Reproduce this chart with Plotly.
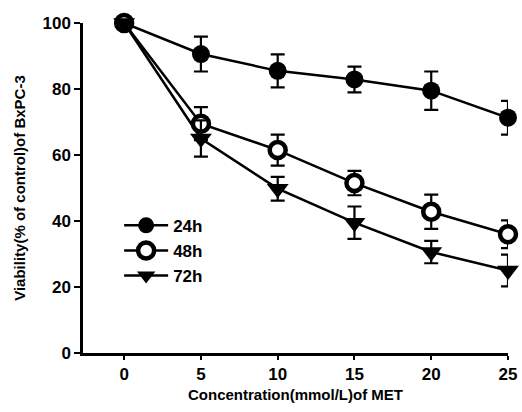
import plotly.graph_objects as go

conc = [0, 5, 10, 15, 20, 25]
v24 = [100, 90.6, 85.5, 82.9, 79.5, 71.3]
e24 = [0, 5.3, 5.0, 3.9, 5.8, 5.1]
v48 = [100, 69.5, 61.5, 51.5, 42.8, 36.0]
e48 = [0, 5.0, 4.7, 3.7, 5.2, 4.2]
v72 = [100, 65.0, 49.8, 39.5, 30.6, 25.0]
e72 = [0, 5.5, 3.6, 4.9, 3.4, 4.8]
series = [("24h", v24, e24, "circle"), ("48h", v48, e48, "circle-open"), ("72h", v72, e72, "triangle-down")]

FONT = "Liberation Sans, Arial, sans-serif"
fig = go.Figure()
for name, v, e, sym in series:
    mk = dict(symbol=sym, size=18 if sym != "triangle-down" else 19, color="black")
    if sym == "circle-open":
        mk = dict(symbol="circle", size=16, color="white", line=dict(color="black", width=4.5))
    fig.add_trace(go.Scatter(
        x=conc, y=v, name=name, mode="lines+markers",
        line=dict(color="black", width=2.5),
        marker=mk,
        error_y=dict(type="data", array=e, visible=True, color="black", thickness=2.2, width=7),
        cliponaxis=False,
    ))

fig.update_layout(
    width=522, height=412,
    margin=dict(l=83, r=14, t=23, b=59, autoexpand=False),
    paper_bgcolor="white", plot_bgcolor="white",
    font=dict(family=FONT, color="black", size=17, weight="bold"),
    showlegend=True,
    legend=dict(x=0.085, y=0.44, xanchor="left", yanchor="top", bgcolor="rgba(0,0,0,0)",
                font=dict(size=17, weight="bold"), tracegroupgap=0, itemwidth=44),
    xaxis=dict(range=[-2.68, 25], tickvals=conc, ticktext=[str(c) for c in conc], automargin=False,
               showgrid=False, zeroline=False, showline=True, linecolor="black", linewidth=2.5,
               ticks="outside", ticklen=4, tickwidth=2, tickcolor="black",
               title=dict(text="Concentration(mmol/L)of MET", font=dict(size=15, weight="bold"), standoff=7)),
    yaxis=dict(range=[0, 100], tickvals=[0, 20, 40, 60, 80, 100], automargin=False,
               showgrid=False, zeroline=False, showline=True, linecolor="black", linewidth=2.5,
               ticks="outside", ticklen=6, tickwidth=2, tickcolor="black",
               title=dict(text="Viability(% of control)of BxPC-3", font=dict(size=15, weight="bold"), standoff=14)),
)
fig.write_html("out.html")
